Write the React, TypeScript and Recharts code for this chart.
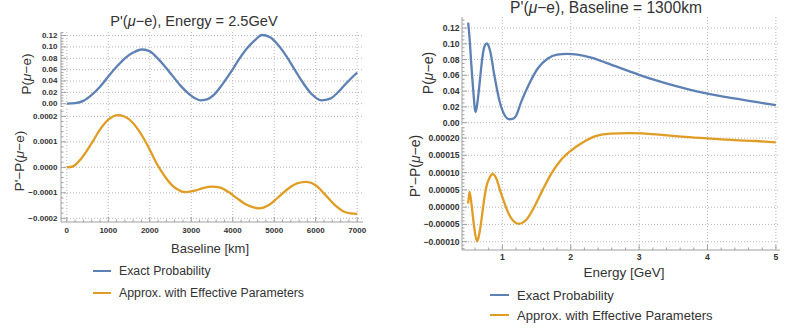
import { LineChart, Line, XAxis, YAxis, CartesianGrid } from "recharts";

const FONT = '"Liberation Sans", Arial, sans-serif';
const BLUE = "#5E81B5";
const ORANGE = "#E19C24";
const FRAME = "#a0a0a0";
const GRID = "#b8b8b8";
const TEXT = "#333333";

// left: P(mu-e) vs baseline at 2.5 GeV
const baselineExact = [0, 200, 400, 600, 800, 1000, 1200, 1400, 1600, 1800, 1980, 2150, 2350, 2550, 2750, 2950, 3100, 3220, 3350, 3550, 3750, 3950, 4150, 4350, 4550, 4700, 4900, 5100, 5300, 5500, 5700, 5900, 6140, 6350, 6550, 6750, 7000];
const probExact = [0.0, 0.001, 0.005, 0.0155, 0.03, 0.048, 0.065, 0.08, 0.09, 0.0955, 0.093, 0.083, 0.067, 0.049, 0.031, 0.017, 0.009, 0.006, 0.007, 0.016, 0.034, 0.055, 0.078, 0.098, 0.113, 0.121, 0.117, 0.103, 0.083, 0.059, 0.036, 0.017, 0.006, 0.009, 0.021, 0.037, 0.055];
const baselineDiff = [0, 150, 350, 600, 800, 1000, 1240, 1480, 1720, 1960, 2160, 2360, 2560, 2760, 2880, 3100, 3300, 3500, 3700, 3900, 4100, 4300, 4500, 4650, 4850, 5100, 5350, 5550, 5780, 6000, 6200, 6450, 6700, 6850, 7000];
const probDiff = [0, 0.000004, 0.000035, 0.000095, 0.000148, 0.000187, 0.000205, 0.000191, 0.000148, 0.000082, 0.000017, -0.000035, -0.000074, -0.000094, -0.000097, -0.000091, -0.000081, -0.000076, -0.00008, -0.000097, -0.000121, -0.000144, -0.000157, -0.000161, -0.00015, -0.000117, -0.000082, -0.000063, -0.000057, -0.00007, -0.000102, -0.000146, -0.000175, -0.000181, -0.000183];

// right: P(mu-e) vs energy at 1300 km
const energyExact = [0.5, 0.52, 0.54, 0.56, 0.58, 0.6, 0.61, 0.63, 0.665, 0.69, 0.715, 0.74, 0.775, 0.8, 0.824, 0.883, 0.956, 1.03, 1.1, 1.15, 1.2, 1.27, 1.395, 1.517, 1.66, 1.8, 1.95, 2.1, 2.3, 2.5, 2.75, 3.0, 3.25, 3.5, 3.75, 4.0, 4.25, 4.5, 4.75, 5.0];
const probExactE = [0.127, 0.108, 0.082, 0.057, 0.035, 0.016, 0.0135, 0.022, 0.048, 0.069, 0.087, 0.097, 0.1005, 0.097, 0.09, 0.06, 0.0285, 0.01, 0.0043, 0.0048, 0.0085, 0.025, 0.0496, 0.0687, 0.081, 0.0862, 0.0872, 0.0862, 0.0825, 0.0765, 0.0685, 0.0606, 0.0535, 0.0472, 0.0417, 0.0369, 0.0328, 0.0292, 0.0256, 0.0221];
const energyDiff = [0.5, 0.52, 0.55, 0.57, 0.59, 0.63, 0.655, 0.678, 0.7, 0.72, 0.74, 0.77, 0.81, 0.858, 0.92, 0.96, 1.005, 1.1, 1.2, 1.24, 1.35, 1.47, 1.59, 1.71, 1.86, 2.0, 2.15, 2.34, 2.58, 2.85, 3.05, 3.33, 3.62, 4.0, 4.4, 4.7, 5.0];
const probDiffE = [0.00001, 0.000045, 0.000007, -0.000028, -0.000061, -0.000099, -0.000085, -0.00006, -0.000028, 0.000002, 0.00003, 0.000062, 0.000084, 0.000096, 0.000079, 0.000053, 0.000026, -0.000022, -0.000046, -0.000048, -0.0000364, 0.000002, 0.00005, 0.000095, 0.000137, 0.000163, 0.000184, 0.000204, 0.000213, 0.0002145, 0.0002135, 0.000209, 0.000204, 0.000199, 0.000194, 0.0001915, 0.0001875];

// tick labels
const baselineTicks = [0, 1000, 2000, 3000, 4000, 5000, 6000, 7000];
const probTicks = [0, 0.02, 0.04, 0.06, 0.08, 0.1, 0.12];
const diffTicksL = [-0.0002, -0.0001, 0, 0.0001, 0.0002];
const energyTicks = [1, 2, 3, 4, 5];
const diffTicksR = [-0.0001, -0.00005, 0, 0.00005, 0.0001, 0.00015, 0.0002];

const PAD = 8;

function allTicks(lo: number, hi: number, step: number) {
  const out: number[] = [];
  for (let i = Math.ceil(lo / step - 1e-9); i * step <= hi + step * 1e-9; i++) {
    out.push(+(i * step).toPrecision(10));
  }
  return out;
}

const isMajor = (v: number, majors: number[], step: number) =>
  majors.some((m) => Math.abs(m - v) < step * 1e-3);

const minus = (s: string) => s.replace("-", "\u2212");

function Panel(props: any) {
  const {
    left, top, plotW, plotH, yW, xH, xs, ys, xDomain, yDomain,
    xMajor, xStep, yMajor, yStep, xFmt, yFmt, color, tickFont, xLabelDy, showX, yGap,
  } = props;
  const data = xs.map((x: number, i: number) => ({ x, y: ys[i] }));
  const xAll = allTicks(xDomain[0], xDomain[1], xStep);
  const yAll = allTicks(yDomain[0], yDomain[1], yStep);
  const xGrid = xMajor.filter((v: number) => v > xDomain[0] && v < xDomain[1]);
  const textStyle = { fontFamily: FONT, fontSize: tickFont, fontWeight: 700, fill: TEXT };

  const bottomTick = (p: any) => {
    const major = isMajor(p.payload.value, xMajor, xStep);
    return (
      <g>
        <line x1={p.x} x2={p.x} y1={p.y} y2={p.y - (major ? 5 : 2.5)} stroke={FRAME} />
        {showX && major && (
          <text x={p.x} y={p.y + xLabelDy} textAnchor="middle" dominantBaseline="central" style={textStyle}>
            {xFmt(p.payload.value)}
          </text>
        )}
      </g>
    );
  };
  const topTick = (p: any) => {
    const major = isMajor(p.payload.value, xMajor, xStep);
    return <line x1={p.x} x2={p.x} y1={p.y} y2={p.y + (major ? 5 : 2.5)} stroke={FRAME} />;
  };
  const leftTick = (p: any) => {
    const major = isMajor(p.payload.value, yMajor, yStep);
    return (
      <g>
        <line x1={p.x} x2={p.x + (major ? 5 : 2.5)} y1={p.y} y2={p.y} stroke={FRAME} />
        {major && (
          <text x={p.x - yGap} y={p.y} textAnchor="end" dominantBaseline="central" style={textStyle}>
            {yFmt(p.payload.value)}
          </text>
        )}
      </g>
    );
  };
  const rightTick = (p: any) => {
    const major = isMajor(p.payload.value, yMajor, yStep);
    return <line x1={p.x} x2={p.x - (major ? 5 : 2.5)} y1={p.y} y2={p.y} stroke={FRAME} />;
  };

  return (
    <div style={{ position: "absolute", left: left - yW, top: top - PAD }}>
      <LineChart
        width={yW + plotW + PAD}
        height={plotH + xH + 2 * PAD}
        data={data}
        margin={{ top: PAD, right: PAD, bottom: PAD, left: 0 }}
      >
        <CartesianGrid stroke={GRID} strokeDasharray="1 2" horizontalValues={yMajor} verticalValues={xGrid} />
        <XAxis
          dataKey="x" type="number" domain={xDomain} allowDataOverflow ticks={xAll} interval={0}
          height={xH} tickSize={0} tickMargin={0} axisLine={{ stroke: FRAME }} tick={bottomTick}
        />
        <XAxis
          xAxisId="top" orientation="top" type="number" domain={xDomain} allowDataOverflow ticks={xAll}
          interval={0} height={0} tickSize={0} tickMargin={0} axisLine={{ stroke: FRAME }} tick={topTick}
        />
        <YAxis
          type="number" domain={yDomain} allowDataOverflow ticks={yAll} interval={0} width={yW}
          tickSize={0} tickMargin={0} axisLine={{ stroke: FRAME }} tick={leftTick}
        />
        <YAxis
          yAxisId="right" orientation="right" type="number" domain={yDomain} allowDataOverflow ticks={yAll}
          interval={0} width={0} tickSize={0} tickMargin={0} axisLine={{ stroke: FRAME }} tick={rightTick}
        />
        <Line dataKey="y" stroke={color} strokeWidth={2.3} dot={false} type="monotone" isAnimationActive={false} />
      </LineChart>
    </div>
  );
}

function Txt({ x, y, size, children, rotate }: any) {
  return (
    <div
      style={{
        position: "absolute", left: x, top: y, fontSize: size, lineHeight: 1, whiteSpace: "nowrap",
        color: TEXT, fontFamily: FONT,
        transform: `translate(-50%, -50%)${rotate ? " rotate(-90deg)" : ""}`,
      }}
    >
      {children}
    </div>
  );
}

function LegendRow({ x, y, color, size, lineW, children }: any) {
  return (
    <>
      <div style={{ position: "absolute", left: x, top: y - 1, width: lineW, height: 2, background: color }} />
      <div
        style={{
          position: "absolute", left: x + lineW + 8, top: y, transform: "translateY(-50%)", fontSize: size,
          lineHeight: 1, whiteSpace: "nowrap", color: TEXT, fontFamily: FONT,
        }}
      >
        {children}
      </div>
    </>
  );
}

const mu = <i>μ</i>;

export default function App() {
  const fmtInt = (v: number) => String(v);
  return (
    <div style={{ position: "absolute", left: 0, top: 0, width: 790, height: 328, background: "#fff", overflow: "hidden" }}>
      {/* left figure */}
      <Panel
        left={61} top={32} plotW={302} plotH={75} yW={61} xH={0}
        xs={baselineExact} ys={probExact} xDomain={[-140, 7140]} yDomain={[-0.0058, 0.1263]}
        xMajor={baselineTicks} xStep={200} yMajor={probTicks} yStep={0.005}
        xFmt={fmtInt} yFmt={(v: number) => v.toFixed(2)} color={BLUE} tickFont={8} xLabelDy={8} showX={false} yGap={3.5}
      />
      <Panel
        left={61} top={109} plotW={302} plotH={113} yW={61} xH={22}
        xs={baselineDiff} ys={probDiff} xDomain={[-140, 7140]} yDomain={[-0.0002145, 0.000229]}
        xMajor={baselineTicks} xStep={200} yMajor={diffTicksL} yStep={0.00002}
        xFmt={fmtInt} yFmt={(v: number) => minus(v.toFixed(4))} color={ORANGE} tickFont={8} xLabelDy={8} showX yGap={3.5}
      />
      <Txt x={194} y={21} size={14.6}>P'({mu}−e), Energy = 2.5GeV</Txt>
      <Txt x={27} y={74} size={13.5} rotate>P({mu}−e)</Txt>
      <Txt x={20} y={161} size={13.5} rotate>P'−P({mu}−e)</Txt>
      <Txt x={210} y={248} size={13}>Baseline [km]</Txt>
      <LegendRow x={93} y={271} color={BLUE} size={12.3} lineW={18}>Exact Probability</LegendRow>
      <LegendRow x={93} y={293} color={ORANGE} size={12.3} lineW={18}>Approx. with Effective Parameters</LegendRow>

      {/* right figure */}
      <Panel
        left={462} top={17} plotW={318} plotH={108} yW={62} xH={0}
        xs={energyExact} ys={probExactE} xDomain={[0.41, 5.06]} yDomain={[-0.003, 0.134]}
        xMajor={energyTicks} xStep={0.2} yMajor={probTicks} yStep={0.005}
        xFmt={fmtInt} yFmt={(v: number) => v.toFixed(2)} color={BLUE} tickFont={8.6} xLabelDy={7} showX={false} yGap={2.5}
      />
      <Panel
        left={462} top={127} plotW={318} plotH={123} yW={62} xH={22}
        xs={energyDiff} ys={probDiffE} xDomain={[0.41, 5.06]} yDomain={[-0.000124, 0.000232]}
        xMajor={energyTicks} xStep={0.2} yMajor={diffTicksR} yStep={0.00001}
        xFmt={fmtInt} yFmt={(v: number) => minus(v.toFixed(5))} color={ORANGE} tickFont={8.6} xLabelDy={7} showX yGap={2.5}
      />
      <Txt x={606} y={8} size={15.6}>P'({mu}−e), Baseline = 1300km</Txt>
      <Txt x={428} y={73} size={14} rotate>P({mu}−e)</Txt>
      <Txt x={415} y={166} size={14} rotate>P'−P({mu}−e)</Txt>
      <Txt x={624} y={273} size={13.5}>Energy [GeV]</Txt>
      <LegendRow x={490} y={295} color={BLUE} size={13} lineW={19}>Exact Probability</LegendRow>
      <LegendRow x={490} y={315} color={ORANGE} size={13} lineW={19}>Approx. with Effective Parameters</LegendRow>
    </div>
  );
}
